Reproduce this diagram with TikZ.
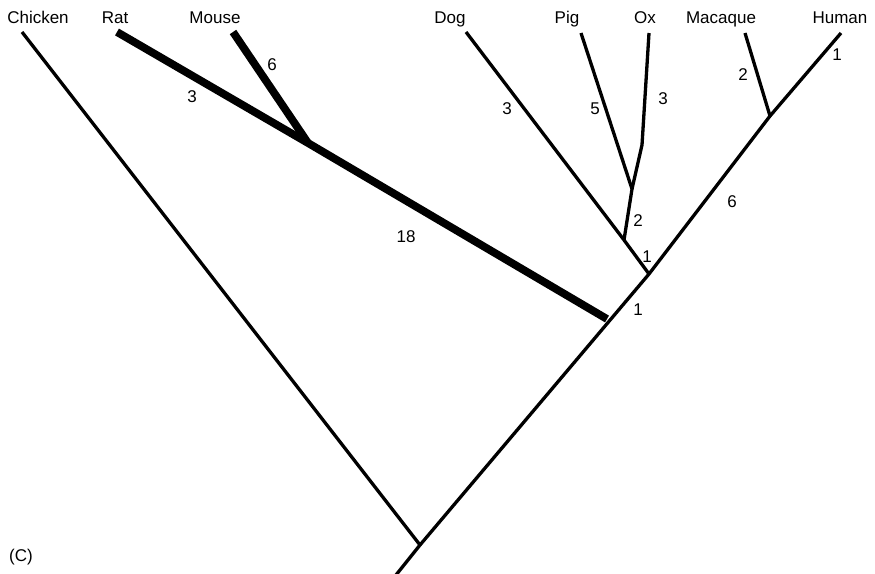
\documentclass[tikz,border=0pt]{standalone}
\usepackage{fontspec}
\setmainfont{Liberation Sans}
\begin{document}
\begin{tikzpicture}[x=1pt,y=-1pt,
  br/.style={line width=3.3pt},
  thickbr/.style={line width=7.8pt},
  lbl/.style={font=\fontsize{17}{20}\selectfont, inner sep=0pt},
  taxon/.style={lbl, anchor=base}]
\useasboundingbox (0,0) rectangle (875,573);
% internal points
\coordinate (root) at (420,545);
\coordinate (stem) at (396,575);
\coordinate (A) at (649,274);
\coordinate (rodentEnd) at (607,319);
\coordinate (rodent) at (308,143);
\coordinate (dogB) at (624,240);
\coordinate (pigox) at (632,189);
\coordinate (oxK) at (642,145);
\coordinate (prim) at (770,116);
% tips
\coordinate (chickenT) at (22,32);
\coordinate (ratT) at (117,32);
\coordinate (mouseT) at (233,32);
\coordinate (dogT) at (466,32);
\coordinate (pigT) at (581,33);
\coordinate (oxT) at (649,33);
\coordinate (macT) at (745,33);
\coordinate (humT) at (841,33);
% taxon labels
\node[taxon] (chicken) at (38,23) {Chicken};
\node[taxon] (rat) at (115,23) {Rat};
\node[taxon] (mouse) at (215,23) {Mouse};
\node[taxon] (dog) at (450,23) {Dog};
\node[taxon] (pig) at (567,23) {Pig};
\node[taxon] (ox) at (645,23) {Ox};
\node[taxon] (macaque) at (721,23) {Macaque};
\node[taxon] (human) at (840,23) {Human};
% branches
\draw[br] (chickenT) -- (root);
\draw[br] (stem) -- (root) -- (A) -- (prim) -- (humT);
\draw[br] (A) -- (dogB) -- (dogT);
\draw[br] (dogB) -- (pigox) -- (pigT);
\draw[br] (pigox) -- (oxK) -- (oxT);
\draw[br] (prim) -- (macT);
\draw[thickbr] (rodentEnd) -- (rodent) -- (ratT);
\draw[thickbr] (rodent) -- (mouseT);
% branch lengths
\node[lbl] (l1) at (192,97) {3};
\node[lbl] (l2) at (272,65) {6};
\node[lbl] (l3) at (406,237) {18};
\node[lbl] (l4) at (507,109) {3};
\node[lbl] (l5) at (595,109) {5};
\node[lbl] (l6) at (663,99) {3};
\node[lbl] (l7) at (743,75) {2};
\node[lbl] (l8) at (837,55) {1};
\node[lbl] (l9) at (732,202) {6};
\node[lbl] (l10) at (638,221) {2};
\node[lbl] (l11) at (647,257) {1};
\node[lbl] (l12) at (638,310) {1};
\node[lbl] (cap) at (21,557) {(C)};
\end{tikzpicture}
\end{document}
